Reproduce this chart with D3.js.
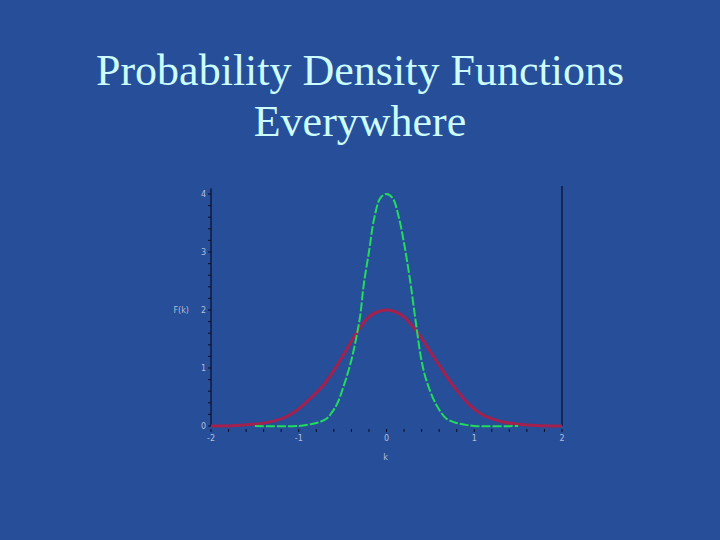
<!DOCTYPE html>
<html>
<head>
<meta charset="utf-8">
<script src="https://cdn.jsdelivr.net/npm/d3@7"></script>
<style>
html,body{margin:0;padding:0;background:#264e99;}
svg{display:block;}
</style>
</head>
<body>
<svg id="chart" width="720" height="540"></svg>
<script>
const titleLines = ["Probability Density Functions", "Everywhere"];
const xTickValues = [-2, -1, 0, 1, 2];
const xTickLabels = ["-2", "-1", "0", "1", "2"];
const yTickValues = [0, 1, 2, 3, 4];
const yTickLabels = ["0", "1", "2", "3", "4"];
const xLabel = "k";
const yLabel = "F(k)";

const greenK = [-1.5,-1.0,-0.87,-0.78,-0.68,-0.62,-0.56,-0.49,-0.41,-0.35,-0.3,-0.26,-0.2,-0.14,-0.07,0,0.07,0.14,0.2,0.27,0.34,0.4,0.46,0.57,0.68,0.78,0.87,1.0,1.5];
const greenV = [0,0,0.03,0.06,0.13,0.24,0.39,0.68,1.08,1.48,1.9,2.43,3.0,3.58,3.93,4.0,3.93,3.6,3.15,2.5,1.72,1.12,0.76,0.36,0.13,0.06,0.03,0,0];

const redK = [-2,-1.7,-1.52,-1.44,-1.3,-1.17,-1.05,-0.9,-0.71,-0.56,-0.45,-0.33,-0.2,-0.1,0,0.1,0.2,0.36,0.57,0.76,0.95,1.1,1.33,1.52,1.7,2];
const redV = [0,0.01,0.03,0.04,0.08,0.14,0.24,0.43,0.72,1.05,1.33,1.63,1.88,1.97,2.0,1.97,1.88,1.6,1.12,0.7,0.36,0.19,0.07,0.03,0.01,0];

const svg = d3.select("#chart");
svg.append("rect").attr("width",720).attr("height",540).attr("fill","#264e99");

// Title
svg.selectAll("text.title").data(titleLines).join("text")
  .attr("class","title")
  .attr("x",360).attr("y",(d,i)=>85+i*51)
  .attr("text-anchor","middle")
  .attr("font-family","'Liberation Serif','Times New Roman',serif")
  .attr("font-size",44)
  .attr("fill","#ccfcff")
  .text(d=>d);

const x = d3.scaleLinear().domain([-2,2]).range([211,562]);
const y = d3.scaleLinear().domain([0,4]).range([426,194]);

const labelColor = "#b3bfd9";
const labelFont = "'DejaVu Sans', Arial, sans-serif";

// left axis line
svg.append("line").attr("x1",x(-2)).attr("x2",x(-2)).attr("y1",y(4.1)).attr("y2",y(0))
  .attr("stroke","#0a0f25").attr("stroke-width",1.2);
// right frame line
svg.append("line").attr("x1",x(2)).attr("x2",x(2)).attr("y1",y(4.14)).attr("y2",y(0))
  .attr("stroke","#0a0f25").attr("stroke-width",1.2);

// y ticks (minor every 0.2)
const yMinor = d3.range(0,4.01,0.2);
svg.selectAll("line.ytick").data(yMinor).join("line")
  .attr("x1",x(-2)-3).attr("x2",x(-2))
  .attr("y1",d=>y(d)).attr("y2",d=>y(d))
  .attr("stroke","#0a0f25").attr("stroke-width",1);
svg.selectAll("text.ylab").data(yTickValues).join("text")
  .attr("x",x(-2)-5).attr("y",d=>y(d)+3)
  .attr("text-anchor","end")
  .attr("font-family",labelFont).attr("font-size",8)
  .attr("fill",labelColor)
  .text((d,i)=>yTickLabels[i]);

// x ticks
const xMinor = d3.range(-2,2.01,0.2);
svg.selectAll("line.xtick").data(xMinor).join("line")
  .attr("x1",d=>x(d)).attr("x2",d=>x(d))
  .attr("y1",y(0)+3).attr("y2",y(0)+6)
  .attr("stroke","#0a0f25").attr("stroke-width",1);
svg.selectAll("text.xlab").data(xTickValues).join("text")
  .attr("x",d=>x(d)).attr("y",y(0)+15)
  .attr("text-anchor","middle")
  .attr("font-family",labelFont).attr("font-size",8)
  .attr("fill",labelColor)
  .text((d,i)=>xTickLabels[i]);

svg.append("text").attr("x",x(0)-1).attr("y",y(0)+34)
  .attr("text-anchor","middle").attr("font-family",labelFont).attr("font-size",8)
  .attr("fill",labelColor).text(xLabel);
svg.append("text").attr("x",189).attr("y",y(2)+3)
  .attr("text-anchor","end").attr("font-family",labelFont).attr("font-size",8)
  .attr("fill",labelColor).text(yLabel);

const line = d3.line().x(d=>x(d[0])).y(d=>y(Math.max(0,d[1]))).curve(d3.curveCatmullRom.alpha(0.5));

const redData = redK.map((k,i)=>[k,redV[i]]);
const greenData = greenK.map((k,i)=>[k,greenV[i]]);

svg.append("path").datum(redData).attr("d",line)
  .attr("fill","none").attr("stroke","#a2214f").attr("stroke-width",3)
  .attr("stroke-linejoin","round");
svg.append("path").datum(greenData).attr("d",line)
  .attr("fill","none").attr("stroke","#22dc5c").attr("stroke-width",2)
  .attr("stroke-dasharray","9,2");
</script>
</body>
</html>
